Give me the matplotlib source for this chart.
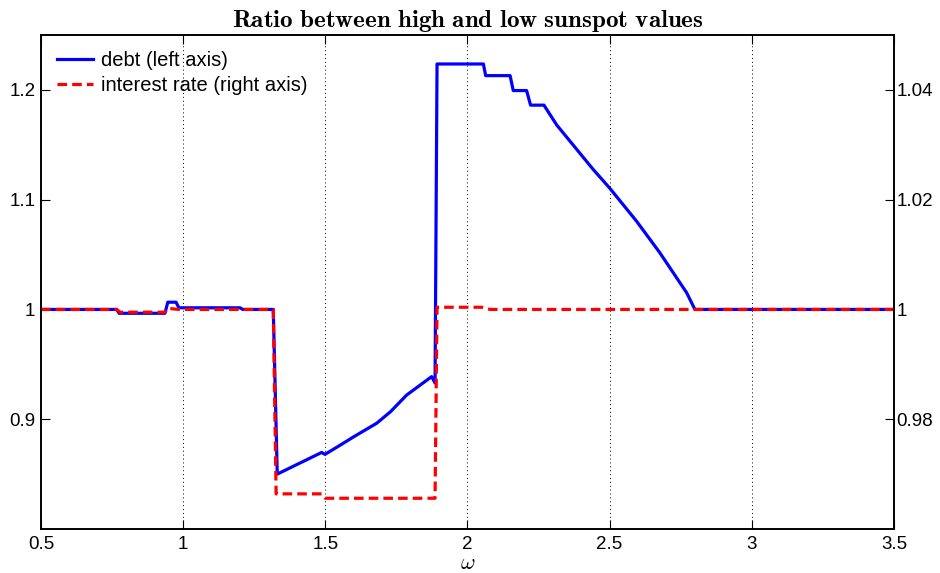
import numpy as np
import matplotlib
matplotlib.use("Agg")
import matplotlib.pyplot as plt
from matplotlib.ticker import FormatStrFormatter

plt.rcParams['font.family'] = ['Liberation Sans', 'DejaVu Sans']
plt.rcParams['mathtext.fontset'] = 'cm'

# debt ratio (left axis)
omega_debt = [0.5, 0.766, 0.775, 0.936, 0.946, 0.975, 0.985, 1.20, 1.21, 1.317,
              1.331, 1.487, 1.499, 1.55, 1.60, 1.681, 1.73, 1.786, 1.874, 1.886,
              1.893, 2.056, 2.064, 2.150, 2.161, 2.208, 2.222, 2.269, 2.314, 2.443,
              2.5, 2.595, 2.677, 2.771, 2.800, 3.5]
debt = [1.0, 1.0, 0.9965, 0.9965, 1.0066, 1.0066, 1.0015, 1.0015, 1.0, 1.0,
        0.850, 0.8697, 0.868, 0.876, 0.884, 0.8964, 0.907, 0.922, 0.9388, 0.933,
        1.2236, 1.2236, 1.213, 1.213, 1.1994, 1.1994, 1.1861, 1.1861, 1.168, 1.1273,
        1.1106, 1.0803, 1.0515, 1.0152, 1.0, 1.0]

# interest rate ratio (right axis)
omega_rate = [0.5, 0.766, 0.778, 0.936, 0.946, 0.985, 1.317, 1.327, 1.487, 1.50,
              1.886, 1.893, 2.05, 2.08, 3.5]
rate = [1.0, 1.0, 0.9995, 0.9995, 1.0002, 1.0, 1.0, 0.9664, 0.9664, 0.9656,
        0.9656, 1.0004, 1.0004, 1.0, 1.0]

left_ticks = [0.9, 1.0, 1.1, 1.2]
right_ticks = [0.98, 1.0, 1.02, 1.04]
x_ticks = [0.5, 1, 1.5, 2, 2.5, 3, 3.5]

fig = plt.figure(figsize=(9.4, 5.73), dpi=100)
ax = fig.add_axes([0.0436, 0.0768, 0.9074, 0.8621])
ax2 = ax.twinx()

l1, = ax.plot(omega_debt, debt, color='#0000ff', lw=2.3, label='debt (left axis)')
l2, = ax2.plot(omega_rate, rate, color='#ff0000', lw=2.3, dashes=(3, 1.6),
               label='interest rate (right axis)')

ax.set_xlim(0.5, 3.5)
ax.set_ylim(0.8, 1.25)
ax2.set_ylim(0.96, 1.05)
ax.set_xticks(x_ticks)
ax.set_yticks(left_ticks)
ax2.set_yticks(right_ticks)
ax.xaxis.set_major_formatter(FormatStrFormatter('%g'))
ax.yaxis.set_major_formatter(FormatStrFormatter('%g'))
ax2.yaxis.set_major_formatter(FormatStrFormatter('%g'))

for a in (ax, ax2):
    a.tick_params(direction='in', length=6.5, width=0.8, labelsize=13.5, pad=4)
    for s in a.spines.values():
        s.set_linewidth(1.2)
ax.tick_params(axis='x', top=True, pad=5)
ax2.tick_params(axis='y', pad=2)
ax.xaxis.grid(True, linestyle=(0, (1, 3)), color='black', lw=0.7)

ax.set_title(r'$\mathbf{Ratio\ between\ high\ and\ low\ sunspot\ values}$',
             fontsize=18, pad=6)
ax.set_xlabel(r'$\omega$', fontsize=16, labelpad=0)

ax2.legend(handles=[l1, l2], loc='upper left', frameon=False, fontsize=14.5,
           handlelength=1.8, handletextpad=0.4, labelspacing=0.3,
           borderaxespad=0.6, borderpad=0.2)

fig.savefig('out.png', dpi=100)
